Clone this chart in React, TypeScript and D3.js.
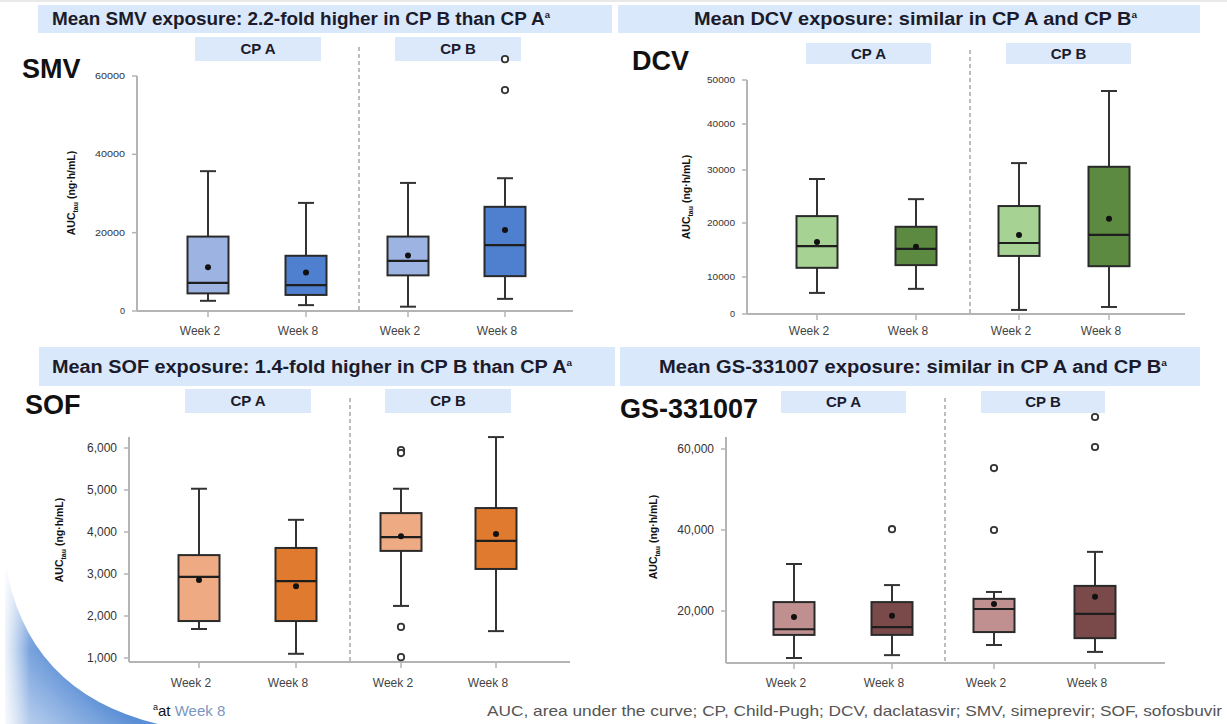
import React from "react";
import * as d3 from "d3";

// ---------------- DATA ----------------
const groups = ["CP A", "CP B"];
const weeks = ["Week 2", "Week 8", "Week 2", "Week 8"];

const smvBoxes = [
  { low: 2600, q1: 4500, median: 7200, q3: 19000, high: 35700, mean: 11200, outliers: [] as number[] },
  { low: 1500, q1: 4100, median: 6600, q3: 14100, high: 27600, mean: 9800, outliers: [] as number[] },
  { low: 1100, q1: 9100, median: 12800, q3: 19000, high: 32700, mean: 14200, outliers: [] as number[] },
  { low: 3100, q1: 8900, median: 16800, q3: 26600, high: 33900, mean: 20700, outliers: [56400, 64300] },
];
const dcvBoxes = [
  { low: 5700, q1: 11700, median: 15700, q3: 21300, high: 28300, mean: 16500, outliers: [] as number[] },
  { low: 6800, q1: 12200, median: 15200, q3: 19300, high: 24500, mean: 15600, outliers: [] as number[] },
  { low: 1100, q1: 13900, median: 16300, q3: 23200, high: 31500, mean: 17800, outliers: [] as number[] },
  { low: 1900, q1: 12000, median: 17800, q3: 30700, high: 47500, mean: 20800, outliers: [] as number[] },
];
const sofBoxes = [
  { low: 1690, q1: 1880, median: 2930, q3: 3450, high: 5030, mean: 2860, outliers: [] as number[] },
  { low: 1100, q1: 1880, median: 2830, q3: 3620, high: 4290, mean: 2710, outliers: [] as number[] },
  { low: 2240, q1: 3550, median: 3880, q3: 4450, high: 5030, mean: 3900, outliers: [5950, 5880, 1740, 1020] },
  { low: 1640, q1: 3120, median: 3790, q3: 4570, high: 6260, mean: 3950, outliers: [] as number[] },
];
const gsBoxes = [
  { low: 8400, q1: 14100, median: 15500, q3: 22200, high: 31600, mean: 18500, outliers: [] as number[] },
  { low: 9100, q1: 14100, median: 16000, q3: 22200, high: 26400, mean: 18800, outliers: [40200] },
  { low: 11600, q1: 14800, median: 20500, q3: 23000, high: 24700, mean: 21700, outliers: [40000, 55300] },
  { low: 9900, q1: 13300, median: 19300, q3: 26200, high: 34600, mean: 23500, outliers: [60500, 67900] },
];

const smvTicks = [0, 20000, 40000, 60000];
const dcvTicks = [0, 10000, 20000, 30000, 40000, 50000];
const sofTicks = [1000, 2000, 3000, 4000, 5000, 6000];
const gsTicks = [20000, 40000, 60000];

const titles = [
  "Mean SMV exposure: 2.2-fold higher in CP B than CP A",
  "Mean DCV exposure: similar in CP A and CP B",
  "Mean SOF exposure: 1.4-fold higher in CP B than CP A",
  "Mean GS-331007 exposure: similar in CP A and CP B",
];
const drugs = ["SMV", "DCV", "SOF", "GS-331007"];
const footnoteRight =
  "AUC, area under the curve; CP, Child-Pugh; DCV, daclatasvir; SMV, simeprevir; SOF, sofosbuvir";

// ---------------- LAYOUT ----------------
type Box = { low: number; q1: number; median: number; q3: number; high: number; mean: number; outliers: number[] };

interface PanelCfg {
  title: string;
  drug: string;
  boxes: Box[];
  ticks: number[];
  tickFmt: (n: number) => string;
  yDomain: number[];
  yRange: number[];
  axisTop: number;
  axisBottom: number;
  axisX: number;
  axisRight: number;
  centers: number[];
  dashX: number;
  dashTop: number;
  bar: [number, number, number, number];
  titleX: number;
  titleLen: number;
  titleSize: number;
  cpBoxes: [number, number][];
  cpY: [number, number];
  drugX: number;
  drugY: number;
  weekY: number;
  tickSize: number;
  tickLen?: number;
  ylabX: number;
  ylabY: number;
  colors: [string, string];
}

const fmtPlain = d3.format("d");
const fmtComma = d3.format(",");

const panels: PanelCfg[] = [
  {
    title: titles[0], drug: drugs[0], boxes: smvBoxes, ticks: smvTicks, tickFmt: fmtPlain,
    yDomain: [0, 60000], yRange: [311, 76], axisTop: 76, axisBottom: 311, axisX: 137, axisRight: 573,
    centers: [208, 306, 408, 505], dashX: 359, dashTop: 47,
    bar: [38, 5, 574, 28], titleX: 52, titleLen: 498, titleSize: 18,
    cpBoxes: [[195, 126], [395, 126]], cpY: [37, 24], drugX: 22, drugY: 78, weekY: 335,
    tickSize: 9, tickLen: 30, ylabX: 75, ylabY: 193, colors: ["#9db4e3", "#4f7fcf"],
  },
  {
    title: titles[1], drug: drugs[1], boxes: dcvBoxes, ticks: dcvTicks, tickFmt: fmtPlain,
    yDomain: dcvTicks, yRange: [314, 277, 223, 170, 124, 80], axisTop: 80, axisBottom: 314, axisX: 747, axisRight: 1185,
    centers: [817, 916, 1019, 1109], dashX: 970, dashTop: 50,
    bar: [618, 5, 582, 28], titleX: 694, titleLen: 443, titleSize: 18,
    cpBoxes: [[806, 125], [1006, 125]], cpY: [43, 21], drugX: 632, drugY: 70, weekY: 335,
    tickSize: 9, tickLen: 28, ylabX: 690, ylabY: 197, colors: ["#a6d393", "#5b8a40"],
  },
  {
    title: titles[2], drug: drugs[2], boxes: sofBoxes, ticks: sofTicks, tickFmt: fmtComma,
    yDomain: [1000, 6000], yRange: [658, 448], axisTop: 437, axisBottom: 662, axisX: 129, axisRight: 570,
    centers: [199, 296, 401, 496], dashX: 350, dashTop: 398,
    bar: [39, 347, 576, 39], titleX: 52, titleLen: 520, titleSize: 18,
    cpBoxes: [[185, 126], [385, 126]], cpY: [389, 24], drugX: 25, drugY: 414, weekY: 687,
    tickSize: 12, ylabX: 63, ylabY: 540, colors: ["#eeaa82", "#e07a2e"],
  },
  {
    title: titles[3], drug: drugs[3], boxes: gsBoxes, ticks: gsTicks, tickFmt: fmtComma,
    yDomain: [0, 60000], yRange: [692, 449], axisTop: 437, axisBottom: 663, axisX: 726, axisRight: 1165,
    centers: [794, 892, 994, 1095], dashX: 945, dashTop: 398,
    bar: [620, 347, 580, 39], titleX: 659, titleLen: 508, titleSize: 18,
    cpBoxes: [[781, 125], [981, 124]], cpY: [391, 22], drugX: 620, drugY: 418, weekY: 687,
    tickSize: 12, ylabX: 657, ylabY: 537, colors: ["#c09090", "#7a4a4a"],
  },
];

const FONT = "Liberation Sans, Arial, sans-serif";

function Panel({ p }: { p: PanelCfg }) {
  const y = d3.scaleLinear().domain(p.yDomain).range(p.yRange);
  const boxW = 41;
  const capW = 16;
  const boxStroke = "#2a2a2a";
  return (
    <g fontFamily={FONT}>
      {/* title bar */}
      <rect x={p.bar[0]} y={p.bar[1]} width={p.bar[2]} height={p.bar[3]} fill="#d9e8fb" />
      <text
        x={p.titleX}
        y={p.bar[1] + p.bar[3] / 2 + 6}
        fontSize={p.titleSize}
        fontWeight="bold"
        fill="#1b1b2b"
        textLength={p.titleLen}
        lengthAdjust="spacingAndGlyphs"
      >
        {p.title}
        <tspan fontSize={9} dy={-7}>a</tspan>
      </text>
      {/* CP group boxes */}
      {groups.map((g, i) => (
        <g key={g}>
          <rect x={p.cpBoxes[i][0]} y={p.cpY[0]} width={p.cpBoxes[i][1]} height={p.cpY[1]} fill="#dbe9fb" />
          <text
            x={p.cpBoxes[i][0] + p.cpBoxes[i][1] / 2}
            y={p.cpY[0] + p.cpY[1] / 2 + 5}
            textAnchor="middle"
            fontSize={15}
            fontWeight="bold"
            fill="#1b1b2b"
          >
            {g}
          </text>
        </g>
      ))}
      {/* drug label */}
      <text x={p.drugX} y={p.drugY} fontSize={27} fontWeight="bold" fill="#111">
        {p.drug}
      </text>
      {/* dashed separator */}
      <line x1={p.dashX} x2={p.dashX} y1={p.dashTop} y2={p.axisBottom} stroke="#a8a8a8" strokeWidth={1.5} strokeDasharray="4,3" />
      {/* axes */}
      <line x1={p.axisX} x2={p.axisX} y1={p.axisTop} y2={p.axisBottom} stroke="#b4b4b4" strokeWidth={2} />
      <line x1={p.axisX} x2={p.axisRight} y1={p.axisBottom} y2={p.axisBottom} stroke="#b4b4b4" strokeWidth={2} />
      {p.ticks.map((t) => (
        <g key={t}>
          <line x1={p.axisX - 5} x2={p.axisX} y1={y(t)} y2={y(t)} stroke="#b4b4b4" strokeWidth={1.5} />
          <text
            x={p.axisX - 12}
            y={y(t) + p.tickSize * 0.35}
            textAnchor="end"
            fontSize={p.tickSize}
            fill="#333"
            {...(p.tickLen && t !== 0 ? { textLength: p.tickLen, lengthAdjust: "spacingAndGlyphs" } : {})}
          >
            {p.tickFmt(t)}
          </text>
        </g>
      ))}
      {/* y label */}
      <text
        transform={`translate(${p.ylabX},${p.ylabY}) rotate(-90)`}
        textAnchor="middle"
        fontSize={10.5}
        fontWeight="bold"
        fill="#111"
      >
        AUC
        <tspan fontSize={7} dy={3}>tau</tspan>
        <tspan dy={-3}> (ng·h/mL)</tspan>
      </text>
      {/* boxes */}
      {p.boxes.map((b, i) => {
        const cx = p.centers[i];
        const fill = p.colors[i % 2];
        return (
          <g key={i}>
            <line x1={cx} x2={cx} y1={p.axisBottom} y2={p.axisBottom + 6} stroke="#b4b4b4" strokeWidth={1.5} />
            <text x={cx - 8} y={p.weekY} textAnchor="middle" fontSize={12} fill="#444">
              {weeks[i]}
            </text>
            <line x1={cx} x2={cx} y1={y(b.high)} y2={y(b.q3)} stroke="#333" strokeWidth={2} />
            <line x1={cx} x2={cx} y1={y(b.q1)} y2={y(b.low)} stroke="#333" strokeWidth={2} />
            <line x1={cx - capW / 2} x2={cx + capW / 2} y1={y(b.high)} y2={y(b.high)} stroke="#333" strokeWidth={2} />
            <line x1={cx - capW / 2} x2={cx + capW / 2} y1={y(b.low)} y2={y(b.low)} stroke="#333" strokeWidth={2} />
            <rect
              x={cx - boxW / 2}
              y={y(b.q3)}
              width={boxW}
              height={y(b.q1) - y(b.q3)}
              fill={fill}
              stroke={boxStroke}
              strokeWidth={2}
            />
            <line x1={cx - boxW / 2} x2={cx + boxW / 2} y1={y(b.median)} y2={y(b.median)} stroke="#1e1e1e" strokeWidth={2.2} />
            <circle cx={cx} cy={y(b.mean)} r={3} fill="#111" />
            {b.outliers.map((o, k) => (
              <circle key={k} cx={cx} cy={y(o)} r={3.2} fill="#fff" stroke="#333" strokeWidth={1.8} />
            ))}
          </g>
        );
      })}
    </g>
  );
}

export default function App() {
  return (
    <svg width={1227} height={724} style={{ display: "block", position: "absolute", left: 0, top: 0 }}>
      <defs>
        <radialGradient id="swoosh" gradientUnits="userSpaceOnUse" cx={330} cy={430} r={480}>
          <stop offset="0.73" stopColor="#5a8ed5" stopOpacity={1} />
          <stop offset="0.86" stopColor="#a3c0e8" stopOpacity={0.9} />
          <stop offset="1" stopColor="#e6eef9" stopOpacity={0.8} />
        </radialGradient>
        <linearGradient id="fadeTop" gradientUnits="userSpaceOnUse" x1="0" y1="555" x2="0" y2="650">
          <stop offset="0" stopColor="#fff" stopOpacity={1} />
          <stop offset="1" stopColor="#fff" stopOpacity={0} />
        </linearGradient>
        <linearGradient id="fadeLeft" gradientUnits="userSpaceOnUse" x1="4" y1="0" x2="30" y2="0">
          <stop offset="0" stopColor="#fff" stopOpacity={0.9} />
          <stop offset="1" stopColor="#fff" stopOpacity={0} />
        </linearGradient>
      </defs>
      <rect x={0} y={0} width={1227} height={724} fill="#fff" />
      <line x1={0} x2={1227} y1={1} y2={1} stroke="#e2e2e2" strokeWidth={1.5} />
      {/* decorative swoosh bottom-left */}
      <path d="M5,560 Q25,692 158,724 L5,724 Z" fill="url(#swoosh)" />
      <rect x={4} y={555} width={160} height={100} fill="url(#fadeTop)" />
      <rect x={4} y={555} width={30} height={169} fill="url(#fadeLeft)" />
      {panels.map((p) => (
        <Panel key={p.drug} p={p} />
      ))}
      {/* footnotes */}
      <text x={153} y={716} fontFamily={FONT} fontSize={15}>
        <tspan fontSize={9} dy={-6} fill="#111">a</tspan>
        <tspan dy={6} fill="#111">at </tspan>
        <tspan fill="#7b96bf">Week 8</tspan>
      </text>
      <text
        x={1222}
        y={716}
        fontFamily={FONT}
        fontSize={15}
        fill="#555"
        textAnchor="end"
        textLength={735}
        lengthAdjust="spacingAndGlyphs"
      >
        {footnoteRight}
      </text>
    </svg>
  );
}
